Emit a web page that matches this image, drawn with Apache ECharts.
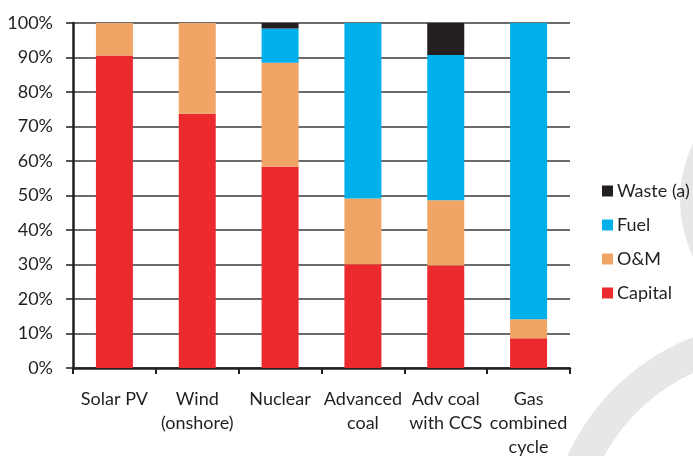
<!DOCTYPE html>
<html><head><meta charset="utf-8">
<script src="https://cdn.jsdelivr.net/npm/echarts@6/dist/echarts.min.js"></script>
<style>html,body{margin:0;padding:0;background:#fff}#c{width:693px;height:456px}</style>
</head><body><div id="c"></div>
<script>
const categories = ['Solar PV', 'Wind\n(onshore)', 'Nuclear', 'Advanced\ncoal', 'Adv coal\nwith CCS', 'Gas\ncombined\ncycle'];
const capital = [90.6, 73.7, 58.3, 30.1, 29.7, 8.6];
const om = [9.4, 26.3, 30.2, 19.0, 18.9, 5.5];
const fuel = [0, 0, 9.9, 50.9, 42.1, 85.9];
const waste = [0, 0, 1.6, 0, 9.3, 0];
const yTicks = [0, 10, 20, 30, 40, 50, 60, 70, 80, 90, 100];

const font = 'Lato, "Noto Sans", sans-serif';
const chart = echarts.init(document.getElementById('c'));
const mk = (name, data, color) => ({
  name, type: 'bar', stack: 'total', data, barWidth: 37,
  itemStyle: { color }, emphasis: { disabled: true }
});
chart.setOption({
  animation: false,
  textStyle: { fontFamily: font },
  graphic: [
    { type: 'circle', z: -10, silent: true, shape: { cx: 811, cy: 200, r: 131 }, style: { fill: '#e6e7e8' } },
    { type: 'ring', z: -10, silent: true, shape: { cx: 775, cy: 550, r: 228, r0: 195 }, style: { fill: '#e6e7e8' } }
  ],
  grid: { left: 73, right: 123, top: 23, bottom: 88, containLabel: false, outerBoundsMode: 'none' },
  legend: {
    orient: 'vertical', left: 597, top: 177,
    data: ['Waste (a)', 'Fuel', 'O&M', 'Capital'],
    icon: 'rect', itemWidth: 11, itemHeight: 11, itemGap: 16,
    textStyle: { fontFamily: font, fontSize: 18, color: '#231f20', padding: [0, 0, 0, -1] }
  },
  xAxis: {
    type: 'category', data: categories,
    axisLine: { lineStyle: { color: '#231f20', width: 2.5 } },
    axisTick: { show: true, length: 6, lineStyle: { color: '#231f20', width: 2 } },
    axisLabel: { fontFamily: font, fontSize: 18, color: '#231f20', margin: 19, lineHeight: 24, interval: 0 }
  },
  yAxis: {
    type: 'value', min: 0, max: 100, interval: 10,
    axisLine: { show: true, lineStyle: { color: '#231f20', width: 2.5 } },
    axisTick: { show: true, length: 7, lineStyle: { color: '#231f20', width: 1.5 } },
    splitLine: { lineStyle: { color: '#3a3a3a', width: 1.5 } },
    axisLabel: { fontFamily: font, fontSize: 18, color: '#231f20', margin: 20,
      formatter: v => yTicks.includes(v) ? v + '%' : '' }
  },
  series: [
    mk('Capital', capital, '#ec2a2e'),
    mk('O&M', om, '#f0a466'),
    mk('Fuel', fuel, '#00b0ea'),
    mk('Waste (a)', waste, '#231f20')
  ]
});
</script></body></html>
